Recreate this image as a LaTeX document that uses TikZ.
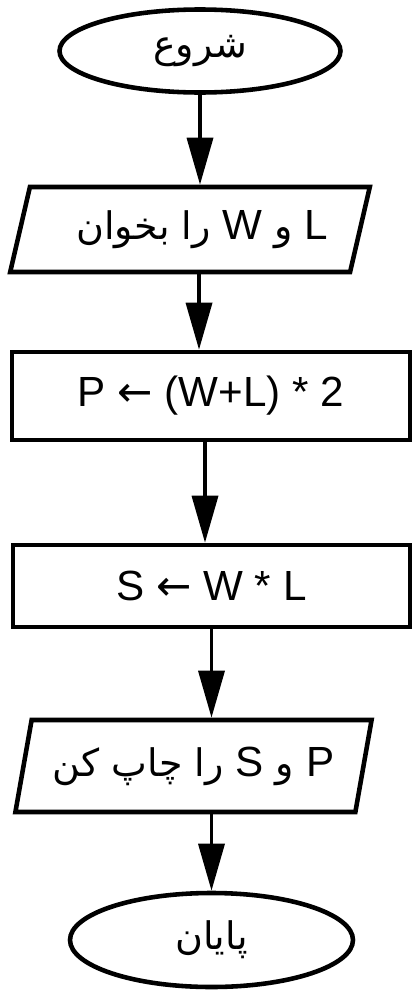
\documentclass[tikz,border=0pt]{standalone}
\usepackage{fontspec}
\setmainfont{Liberation Sans}
\newfontfamily\arabicfont[Script=Arabic,Scale=0.9]{DejaVu Sans}
\newfontfamily\arrowfont{DejaVu Sans}
\TeXXeTstate=1
\usetikzlibrary{shapes.geometric,arrows.meta}

\begin{document}
\begin{tikzpicture}[
    terminal/.style={draw, ellipse, line width=2.6pt, inner sep=0pt},
    io/.style={draw, trapezium, trapezium stretches=true, line width=2.6pt, inner sep=0pt},
    process/.style={draw, rectangle, line width=2.6pt, inner sep=0pt},
    flow/.style={line width=2pt, -{Triangle[length=0.94cm,width=0.52cm]}},
    font=\fontsize{24}{28}\selectfont]
   \useasboundingbox (0,0) rectangle (8.26,-19.8);

   \node[terminal, minimum width=5.62cm, minimum height=1.66cm] (start) at (4.00,-1.02) {\arabicfont\beginR شروع\endR};
   \node[io, trapezium left angle=66, trapezium right angle=114,
         minimum width=7.2cm, minimum height=1.7cm] (read) at (3.80,-4.59)
         {\hspace*{0.5cm}\arabicfont\beginR {\rmfamily L} و {\rmfamily W} را بخوان\endR};
   \node[process, minimum width=7.96cm, minimum height=1.76cm] (calcP) at (4.22,-7.92) {P {\arrowfont ←} (W+L) * 2};
   \node[process, minimum width=7.94cm, minimum height=1.64cm] (calcS) at (4.23,-11.72) {S {\arrowfont ←} W * L};
   \node[io, trapezium left angle=70, trapezium right angle=110,
         minimum width=7.14cm, minimum height=1.84cm] (print) at (3.87,-15.32)
         {\arabicfont\beginR {\rmfamily P} و {\rmfamily S} را چاپ کن\endR};
   \node[terminal, minimum width=5.66cm, minimum height=1.88cm] (end) at (4.23,-18.80) {\arabicfont\beginR پایان\endR};

   \draw[flow] (start.south) -- (start.south |- read.north);
   \draw[flow] ([xshift=0.18cm]read.south) -- ([xshift=0.18cm]read.south |- calcP.north);
   \draw[flow] ([xshift=-0.12cm]calcP.south) -- ([xshift=-0.12cm]calcP.south |- calcS.north);
   \draw[flow] (calcS.south) -- (calcS.south |- print.north);
   \draw[flow] (print.south -| end.north) -- (end.north);
\end{tikzpicture}
\end{document}
